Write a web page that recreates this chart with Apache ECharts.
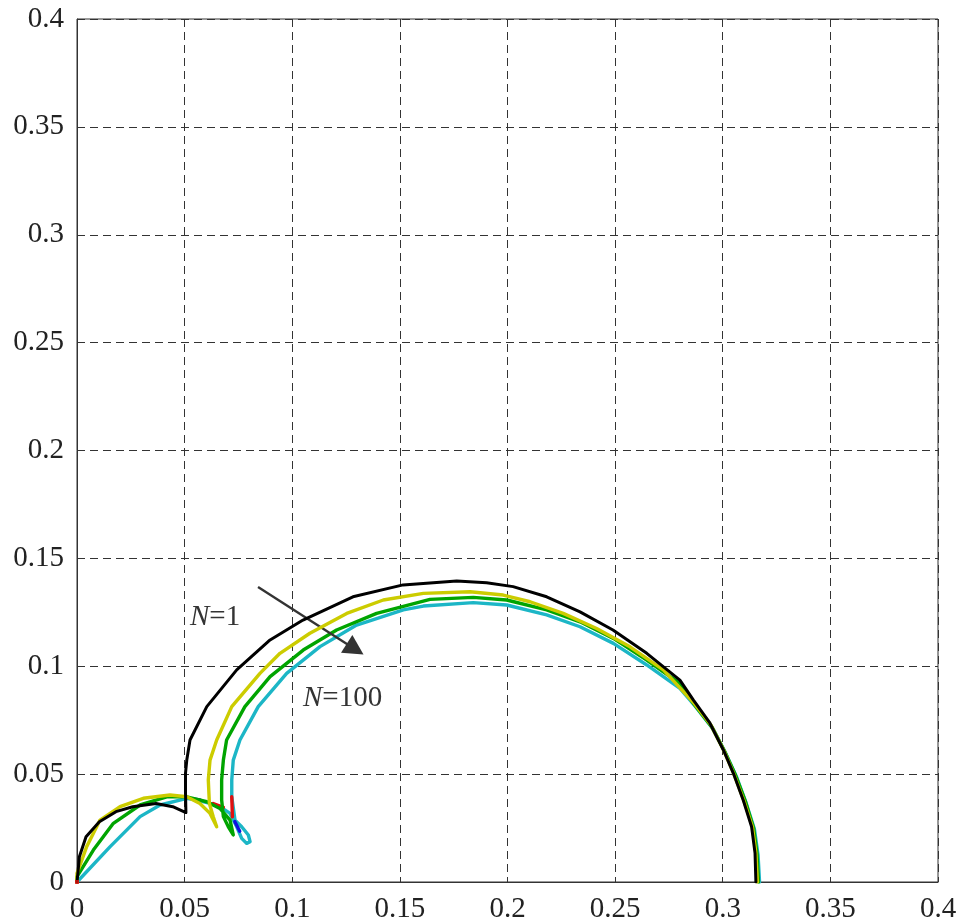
<!DOCTYPE html>
<html>
<head>
<meta charset="utf-8">
<script src="https://cdn.jsdelivr.net/npm/echarts@6/dist/echarts.min.js"></script>
<style>html,body{margin:0;padding:0;background:#fff}#c{width:961px;height:924px}</style>
</head>
<body>
<div id="c"></div>
<script>
const xTicks = [0, 0.05, 0.1, 0.15, 0.2, 0.25, 0.3, 0.35, 0.4];
const yTicks = [0, 0.05, 0.1, 0.15, 0.2, 0.25, 0.3, 0.35, 0.4];

const curveN1 = [[0,0],[0.0005,0.005],[0.0011,0.0117],[0.0042,0.021],[0.0104,0.0279],[0.0181,0.0326],[0.0259,0.0349],[0.0367,0.0364],[0.0445,0.0349],[0.0506,0.0322],[0.0504,0.042],[0.0504,0.0503],[0.051,0.0565],[0.0525,0.0658],[0.0603,0.0813],[0.0742,0.0983],[0.0897,0.1122],[0.105,0.1214],[0.1282,0.1322],[0.1515,0.1377],[0.1764,0.1395],[0.1903,0.1387],[0.2026,0.1369],[0.2182,0.1322],[0.2337,0.1252],[0.249,0.1168],[0.2647,0.106],[0.2801,0.0936],[0.2863,0.0844],[0.294,0.0737],[0.3003,0.0612],[0.3049,0.0505],[0.3095,0.038],[0.3134,0.0256],[0.315,0.0134],[0.3154,0]];

const curveYellow = [[0,0],[0,0.004],[0.0045,0.0164],[0.0107,0.0287],[0.02,0.0349],[0.0308,0.0388],[0.0432,0.0403],[0.051,0.0395],[0.0571,0.0364],[0.0618,0.0318],[0.0649,0.0256],[0.0633,0.0302],[0.0615,0.0364],[0.061,0.0473],[0.0618,0.0565],[0.0649,0.0658],[0.0719,0.0813],[0.085,0.0967],[0.0943,0.106],[0.1082,0.1153],[0.1253,0.1245],[0.1423,0.1307],[0.1609,0.1338],[0.1826,0.1345],[0.198,0.133],[0.2105,0.1299],[0.2259,0.1245],[0.2414,0.1175],[0.2569,0.109],[0.2724,0.0983],[0.2862,0.0834],[0.2945,0.0728],[0.3006,0.0607],[0.3052,0.05],[0.3099,0.0375],[0.3138,0.0255],[0.3154,0.0134],[0.3161,0]];

const curveGreen = [[0,0],[0,0.0025],[0.0076,0.0148],[0.0169,0.0272],[0.0293,0.0357],[0.0417,0.0395],[0.051,0.0395],[0.0603,0.0372],[0.0664,0.0341],[0.0711,0.0287],[0.0726,0.0218],[0.0719,0.0218],[0.0703,0.0256],[0.068,0.0303],[0.0672,0.038],[0.0672,0.0473],[0.068,0.0565],[0.0695,0.0658],[0.078,0.0813],[0.0897,0.0952],[0.1051,0.1075],[0.1206,0.1168],[0.1392,0.1245],[0.164,0.131],[0.1841,0.1319],[0.1996,0.1307],[0.2182,0.1261],[0.2337,0.1206],[0.2492,0.1129],[0.2647,0.1029],[0.2801,0.092],[0.2866,0.0825],[0.295,0.0718],[0.301,0.0603],[0.3059,0.0496],[0.3106,0.0371],[0.3143,0.025],[0.3159,0.013],[0.3166,0]];

const curveN100 = [[0,0],[0.0153,0.0163],[0.0293,0.0303],[0.0386,0.0357],[0.051,0.0388],[0.0556,0.038],[0.0618,0.0364],[0.0664,0.0349],[0.0711,0.0318],[0.0742,0.0256],[0.0765,0.0202],[0.0788,0.0179],[0.0804,0.0187],[0.0796,0.0218],[0.0765,0.0256],[0.0734,0.0287],[0.0719,0.0395],[0.0719,0.0473],[0.0726,0.0565],[0.0757,0.0658],[0.0842,0.0813],[0.0974,0.0967],[0.1129,0.1091],[0.1299,0.1191],[0.1516,0.1261],[0.1609,0.1279],[0.1841,0.1295],[0.1996,0.1284],[0.2182,0.1238],[0.2337,0.1183],[0.2492,0.1106],[0.2647,0.1006],[0.2801,0.0897],[0.2871,0.0816],[0.2955,0.0709],[0.3015,0.0593],[0.3064,0.0487],[0.311,0.0362],[0.3147,0.0246],[0.3164,0.0125],[0.3171,0]];

const redSegA = [[0.0719,0.0395],[0.0722,0.0302]];
const redSegB = [[0.0633,0.0364],[0.068,0.0346]];
const redDot = [[0,0]];
const blueSegA = [[0.0538,0.0385],[0.0571,0.038]];
const blueSegB = [[0.0733,0.028],[0.0756,0.0235]];

const arrowFrom = [0.0841, 0.1367];
const arrowTo = [0.1292, 0.1079];
const labelN1 = [0.0525, 0.1228];
const labelN100 = [0.105, 0.0853];

const FONT = '"Liberation Serif", "Times New Roman", serif';
const chart = echarts.init(document.getElementById('c'));

function lineSeries(data, color, width, z) {
  return { type: 'line', data: data, symbol: 'none', showSymbol: false, z: z,
    lineStyle: { color: color, width: width, join: 'round', cap: 'round' }, animation: false };
}

const textRich = {
  i: { fontStyle: 'italic', fontFamily: FONT, fontSize: 29, color: '#333' },
  n: { fontFamily: FONT, fontSize: 29, color: '#333' }
};

function fmt(ticks) {
  return v => { const t = ticks.find(k => Math.abs(k - v) < 1e-9); return t === undefined ? '' : String(t); };
}

chart.setOption({
  animation: false,
  grid: { left: 77, top: 19, right: 23, bottom: 42, show: true, borderColor: '#333', borderWidth: 1 },
  xAxis: {
    type: 'value', min: 0, max: 0.4, interval: 0.05,
    axisLine: { show: true, onZero: false, lineStyle: { color: '#333', width: 1 } },
    axisTick: { show: false },
    axisLabel: { fontFamily: FONT, fontSize: 29, color: '#222', margin: 13, formatter: fmt(xTicks) },
    splitLine: { show: true, lineStyle: { color: '#333', width: 1, type: [8, 5] } }
  },
  yAxis: {
    type: 'value', min: 0, max: 0.4, interval: 0.05,
    axisLine: { show: true, onZero: false, lineStyle: { color: '#333', width: 1 } },
    axisTick: { show: false },
    axisLabel: { fontFamily: FONT, fontSize: 29, color: '#222', margin: 13, formatter: fmt(yTicks) },
    splitLine: { show: true, lineStyle: { color: '#333', width: 1, type: [8, 5] } }
  },
  series: [
    lineSeries(curveN100, '#1cb6c6', 3.4, 2),
    lineSeries(redSegA, '#e01010', 3.4, 3),
    lineSeries(redSegB, '#e01010', 3.4, 3),
    lineSeries(blueSegA, '#1010e0', 3.4, 3),
    lineSeries(blueSegB, '#1010e0', 3.4, 3),
    lineSeries(curveGreen, '#00a400', 3.4, 4),
    lineSeries(curveYellow, '#cccc00', 3.4, 5),
    Object.assign(lineSeries(curveN1, '#000000', 3, 6), {
      markLine: {
        silent: true, animation: false,
        symbol: ['none', 'triangle'], symbolSize: [21, 20],
        lineStyle: { color: '#333', width: 2.4, type: 'solid' },
        itemStyle: { color: '#333' },
        label: { show: false },
        data: [[{ coord: arrowFrom }, { coord: arrowTo }]]
      },
      markPoint: {
        silent: true, animation: false, symbol: 'circle', symbolSize: 0,
        label: { show: true, position: 'right', distance: 0, rich: textRich,
          formatter: p => p.name === 'a' ? '{i|N}{n|=1}' : '{i|N}{n|=100}' },
        data: [{ name: 'a', coord: labelN1 }, { name: 'b', coord: labelN100 }]
      }
    }),
    { type: 'scatter', data: redDot, symbol: 'rect', symbolSize: 4, itemStyle: { color: '#e01010' }, z: 7 }
  ]
});
</script>
</body>
</html>
